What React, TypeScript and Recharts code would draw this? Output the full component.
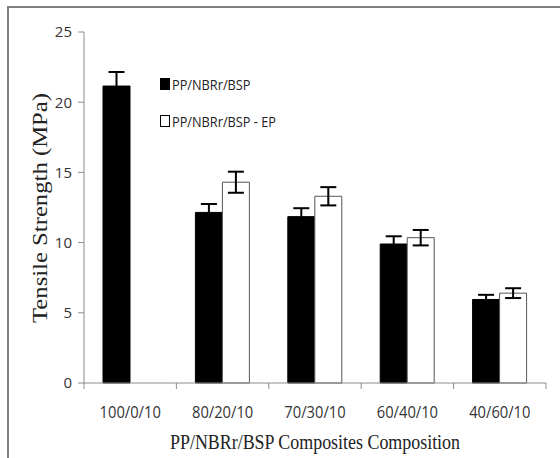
import { BarChart, Bar, XAxis, YAxis, ErrorBar, Legend, Label } from "recharts";

const categories = ["100/0/10", "80/20/10", "70/30/10", "60/40/10", "40/60/10"];
const plainValues = [21.15, 12.15, 11.85, 9.9, 5.95];
const plainErrors = [1.0, 0.6, 0.6, 0.55, 0.33];
const epValues = [null, 14.3, 13.3, 10.35, 6.4];
const epErrors = [null, 0.75, 0.65, 0.55, 0.35];
const yTicks = [0, 5, 10, 15, 20, 25];

const data = categories.map((name, i) => ({
  name,
  plain: plainValues[i],
  plainErr: plainErrors[i],
  ep: epValues[i],
  epErr: epErrors[i],
}));

const AXIS_GRAY = "#8c8c8c";
const TICK_FONT = "'Open Sans', sans-serif";
const TITLE_FONT = "'Liberation Serif', 'Times New Roman', serif";

// category label at band centre, tick mark on the band boundary
const XTick = (props: any) => {
  const { x, y, payload, index } = props;
  const half = payload?.offset ?? 46.2;
  return (
    <g>
      <line x1={x + half} y1={y} x2={x + half} y2={y + 6} stroke={AXIS_GRAY} />
      {index === 0 && <line x1={x - half} y1={y} x2={x - half} y2={y + 6} stroke={AXIS_GRAY} />}
      <text
        x={x}
        y={y + 35}
        textAnchor="middle"
        fontSize={16}
        fontFamily={TICK_FONT}
        fill="#333"
        transform={`translate(${x} 0) scale(0.92 1) translate(${-x} 0)`}
      >
        {payload.value}
      </text>
    </g>
  );
};

const renderLegend = () => {
  const items = [
    { label: "PP/NBRr/BSP", fill: "#000" },
    { label: "PP/NBRr/BSP - EP", fill: "#fff" },
  ];
  return (
    <div style={{ fontFamily: TICK_FONT, fontSize: 15, color: "#222" }}>
      {items.map((item) => (
        <div key={item.label} style={{ display: "flex", alignItems: "center", height: 18, marginBottom: 19 }}>
          <span
            style={{
              display: "inline-block",
              width: 8,
              height: 10,
              background: item.fill,
              border: "1px solid #000",
              marginRight: 2,
            }}
          />
          <span style={{ display: "inline-block", transform: "scaleX(0.85)", transformOrigin: "left center" }}>
            {item.label}
          </span>
        </div>
      ))}
    </div>
  );
};

export default function App() {
  return (
    <div style={{ position: "absolute", left: 0, top: 0, width: 560, height: 458, background: "#fff" }}>
      <div
        style={{
          position: "absolute",
          left: 7,
          top: 6,
          width: 560,
          height: 460,
          borderLeft: "2px solid #808080",
          borderTop: "2px solid #808080",
        }}
      />
      <div style={{ position: "absolute", left: 0, top: 0 }}>
        <BarChart
          width={560}
          height={458}
          data={data}
          margin={{ top: 32, right: 14, left: 0, bottom: 0 }}
          barSize={27}
          barGap={0}
        >
          <XAxis
            dataKey="name"
            height={75}
            axisLine={{ stroke: AXIS_GRAY }}
            tickLine={false}
            tickSize={0}
            tickMargin={0}
            tick={<XTick />}
            interval={0}
          >
            <Label
              content={() => (
                <text
                  x={315}
                  y={449}
                  textAnchor="middle"
                  fontSize={22}
                  fontFamily={TITLE_FONT}
                  fill="#222"
                  textLength={290}
                  lengthAdjust="spacingAndGlyphs"
                >
                  PP/NBRr/BSP Composites Composition
                </text>
              )}
            />
          </XAxis>
          <YAxis
            width={84}
            domain={[0, 25]}
            ticks={yTicks}
            interval={0}
            axisLine={{ stroke: AXIS_GRAY }}
            tickLine={{ stroke: AXIS_GRAY }}
            tickSize={6}
            tickMargin={6}
            tick={{ fontSize: 15, fontFamily: TICK_FONT, fill: "#333" }}
          >
            <Label
              content={() => (
                <text
                  x={47}
                  y={208}
                  transform="rotate(-90 47 208)"
                  textAnchor="middle"
                  fontSize={22}
                  fontFamily={TITLE_FONT}
                  fill="#222"
                  textLength={230}
                  lengthAdjust="spacingAndGlyphs"
                >
                  Tensile Strength (MPa)
                </text>
              )}
            />
          </YAxis>
          <Legend
            layout="vertical"
            align="center"
            verticalAlign="middle"
            content={renderLegend}
            wrapperStyle={{ left: 160, top: 75, width: 200 }}
          />
          <Bar dataKey="plain" fill="#000" stroke="#000" isAnimationActive={false}>
            <ErrorBar dataKey="plainErr" width={8} stroke="#000" strokeWidth={2} isAnimationActive={false} />
          </Bar>
          <Bar dataKey="ep" fill="#fff" stroke="#555" isAnimationActive={false}>
            <ErrorBar dataKey="epErr" width={8} stroke="#000" strokeWidth={2} isAnimationActive={false} />
          </Bar>
        </BarChart>
      </div>
    </div>
  );
}
